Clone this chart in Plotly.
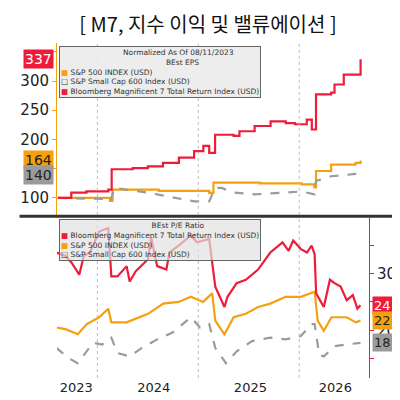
import plotly.graph_objects as go

# x = months since 11 Aug 2023
eps_m7_x = [0, 1.6, 3.4, 6.0, 6.4, 8.9, 10.7, 12.5, 14.4, 16.2, 17.3, 18.0, 18.7, 20.9, 21.6, 23.4,
            25.3, 27.1, 28.2, 29.6, 30.2, 30.7, 32.5, 32.9, 34.0, 35.4, 36.0]
eps_m7 = [100, 109, 111, 114, 149, 151, 154, 160, 169, 180, 189, 177, 208, 206, 214, 223,
          231, 228, 226, 234, 217, 277, 280, 294, 311, 311, 337]
eps_spx_x = [0, 6.0, 6.2, 6.5, 12, 18.0, 18.5, 24, 29.0, 30.5, 30.7, 32.5, 35.4, 36.0]
eps_spx = [100, 100, 95, 114, 112, 108.6, 126, 125, 123, 118, 146, 157, 160, 164]
eps_sml_x = [0, 6.0, 6.3, 6.7, 10.7, 16.2, 18.0, 18.7, 19.5, 20.9, 23.4, 29.0, 30.5, 30.7, 32.5, 35.4, 36.0]
eps_sml = [100, 98, 95, 117, 109, 94, 94, 117, 117, 109, 106, 111, 106, 129, 137, 141, 140]

pe_m7_x = [100, 130, 150, 175, 190, 210, 240, 270, 280, 300, 330, 340, 360, 400, 410, 430, 460, 470, 500,
           540, 560, 600, 620, 650, 660, 690, 720, 760, 800, 840, 860, 875, 900, 920, 935, 945, 950,
           975, 995, 1010, 1030, 1050, 1070, 1085, 1095]
pe_m7 = [33.7, 33.1, 31.9, 29.8, 33.1, 33.7, 37.4, 38.0, 29.5, 29.5, 31.3, 28.6, 30.4, 32.5, 36.4, 31.3,
         30.7, 33.7, 34.9, 36.7, 35.5, 36.1, 27.7, 24.1, 25.9, 28.3, 28.9, 30.7, 33.7, 35.5, 34.0, 35.8,
         34.3, 33.7, 34.9, 33.4, 26.5, 24.1, 28.9, 28.3, 27.7, 25.3, 26.2, 23.8, 24.4]
pe_spx_x = [100, 130, 170, 200, 240, 270, 280, 330, 400, 450, 500, 540, 580, 610, 620, 650, 680, 720,
            760, 800, 850, 900, 945, 955, 975, 1000, 1050, 1080, 1095]
pe_spx = [20.5, 20.2, 19.3, 21.1, 22.3, 23.8, 21.4, 21.4, 22.9, 24.7, 25.0, 25.9, 25.0, 26.5, 21.7,
          19.3, 22.3, 22.9, 24.1, 24.7, 25.9, 25.9, 26.8, 21.7, 19.9, 22.3, 22.3, 21.4, 21.7]
pe_sml_x = [100, 140, 170, 220, 250, 280, 300, 340, 380, 430, 480, 540, 570, 600, 620, 655, 690, 740,
            800, 850, 900, 935, 945, 960, 975, 1010, 1050, 1095]
pe_sml = [16.9, 15.1, 14.2, 17.8, 17.5, 18.7, 16.0, 15.4, 16.9, 18.4, 19.6, 22.3, 20.5, 21.1, 16.9,
          14.2, 16.3, 18.1, 18.7, 18.4, 19.0, 21.1, 21.1, 15.7, 15.4, 17.2, 17.5, 17.8]


def px_to_month(xs):
    return [(x / 3 - 35) / 9.17 for x in xs]


year_ticks = [2.2, 11.4, 22.9, 33.0]
year_text = ["2023", "2024", "2025", "2026"]
year_lines = [4.7, 16.7, 28.7]

RED, ORANGE, GRAY = "#ee1c3a", "#f5a00f", "#9b9b9b"


def line(x, y, color, xa, ya, dash=None, shape="linear"):
    return go.Scatter(x=x, y=y, mode="lines", line=dict(color=color, width=2.2, dash=dash, shape=shape),
                      xaxis=xa, yaxis=ya)


fig = go.Figure()
fig.add_trace(line(eps_spx_x, eps_spx, ORANGE, "x", "y", shape="hv"))
fig.add_trace(line(eps_sml_x, eps_sml, GRAY, "x", "y", dash="dash"))
fig.add_trace(line(eps_m7_x, eps_m7, RED, "x", "y", shape="hv"))
fig.add_trace(line(px_to_month(pe_sml_x), pe_sml, GRAY, "x2", "y2", dash="dash"))
fig.add_trace(line(px_to_month(pe_spx_x), pe_spx, ORANGE, "x2", "y2"))
fig.add_trace(line(px_to_month(pe_m7_x), pe_m7, RED, "x2", "y2"))

font = dict(family="DejaVu Sans", size=15, color="#222")
fig.update_layout(
    width=400, height=400, showlegend=False, plot_bgcolor="white", paper_bgcolor="white",
    margin=dict(l=35, r=25, t=35, b=30), font=font,
    title=dict(text="[ M7, 지수 이익 및 밸류에이션 ]", x=0.5, y=0.975, font=dict(family="Noto Sans CJK KR", size=20, color="#111")),
    xaxis=dict(domain=[0, 1], range=[-0.1, 37], showticklabels=False, showgrid=False, zeroline=False, anchor="y"),
    yaxis=dict(domain=[0.487, 1], range=[71, 365], tickvals=[100, 150, 200, 250, 300, 350],
               ticktext=["100", "", "200", "250", "300", ""], showgrid=False, zeroline=False,
               showline=True, linecolor=ORANGE, ticks="outside", tickcolor=ORANGE, ticklen=4),
    xaxis2=dict(domain=[0, 1], range=[-0.1, 37], tickvals=year_ticks, ticktext=year_text, showgrid=False,
                zeroline=False, anchor="y2", tickfont=dict(size=13), ticks=""),
    yaxis2=dict(domain=[0, 0.478], range=[11.6, 39.8], side="right", tickvals=[15, 20, 25, 30, 35],
                ticktext=["", "20", "", "30", ""], showgrid=False, zeroline=False, showline=True,
                linecolor=RED, ticks="outside", tickcolor=RED, ticklen=4, anchor="x2"),
)
shapes = [dict(type="line", xref="paper", yref="paper", x0=-0.12, x1=1.08, y0=0.483, y1=0.483,
               line=dict(color="#333", width=3))]
for m in year_lines:
    for xa, ya in (("x", "y domain"), ("x2", "y2 domain")):
        shapes.append(dict(type="line", xref=xa, yref=ya, x0=m, x1=m, y0=0, y1=1,
                           line=dict(color="#bbb", width=1, dash="dot")))
fig.update_layout(shapes=shapes)

small = dict(family="DejaVu Sans", size=7.5, color="#333")
legend_top = ("&nbsp;" * 26 + "Normalized As Of 08/11/2023<br>" + "&nbsp;" * 44 + "BEst EPS<br>"
              f"<span style='color:{ORANGE}'>■</span> S&P 500 INDEX (USD)<br>"
              "□ S&P Small Cap 600 Index (USD)<br>"
              f"<span style='color:{RED}'>■</span> Bloomberg Magnificent 7 Total Return Index (USD)")
legend_bot = ("&nbsp;" * 38 + "BEst P/E Ratio<br>"
              f"<span style='color:{RED}'>■</span> Bloomberg Magnificent 7 Total Return Index (USD)<br>"
              f"<span style='color:{ORANGE}'>■</span> S&P 500 INDEX (USD)<br>"
              "□ S&P Small Cap 600 Index (USD)")
anns = [
    dict(text=legend_top, xref="paper", yref="paper", x=0.005, y=0.99, xanchor="left", yanchor="top",
         showarrow=False, align="left", font=small, bgcolor="rgba(235,235,235,0.9)", bordercolor="#666", borderwidth=1),
    dict(text=legend_bot, xref="paper", yref="paper", x=0.005, y=0.475, xanchor="left", yanchor="top",
         showarrow=False, align="left", font=small, bgcolor="rgba(225,225,225,0.7)", bordercolor="#666", borderwidth=1),
]
for val, col, fc in ((eps_m7[-1], RED, "white"), (eps_spx[-1], ORANGE, "#222"), (eps_sml[-1], GRAY, "#222")):
    anns.append(dict(text=str(round(val)), xref="paper", yref="y", x=-0.01, y=val, xanchor="right",
                     showarrow=False, bgcolor=col, font=dict(size=14, color=fc), borderpad=1))
for val, col, fc in ((pe_m7[-1], RED, "white"), (pe_spx[-1], ORANGE, "#222"), (pe_sml[-1], GRAY, "#222")):
    anns.append(dict(text=str(round(val)), xref="paper", yref="y2", x=1.01, y=val, xanchor="left",
                     showarrow=False, bgcolor=col, font=dict(size=13, color=fc), borderpad=1))
fig.update_layout(annotations=anns)

fig.write_html("out.html")
